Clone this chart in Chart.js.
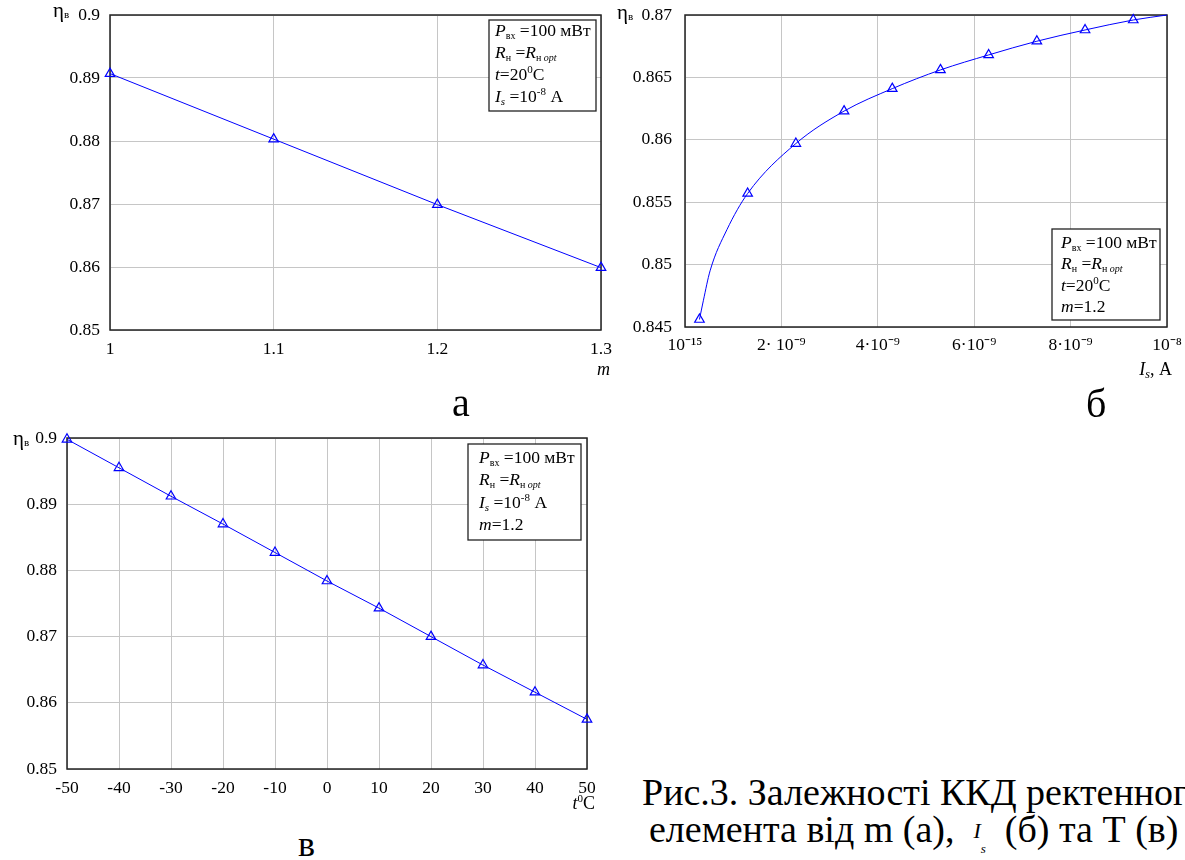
<!DOCTYPE html>
<html lang="uk">
<head>
<meta charset="utf-8">
<title>Залежності ККД ректенного елемента</title>
<script src="https://cdn.jsdelivr.net/npm/chart.js@4.4.1/dist/chart.umd.min.js"></script>
<style>
  html, body { margin: 0; padding: 0; background: #fff; }
  body {
    width: 1185px; height: 860px; overflow: hidden; position: relative;
    font-family: "Liberation Serif", "Times New Roman", serif; color: #000;
  }
  .plot { position: absolute; }
  .cap { position: absolute; line-height: 1; white-space: nowrap; }
  .math { font-style: italic; position: relative; }
</style>
</head>
<body>

<div class="plot" style="left:0;top:0;width:620px;height:385px"><canvas id="chartM"></canvas></div>
<div class="plot" style="left:605px;top:0;width:580px;height:385px"><canvas id="chartIs"></canvas></div>
<div class="plot" style="left:0;top:400px;width:620px;height:420px"><canvas id="chartT"></canvas></div>

<div class="cap" style="left:452px;top:383px;font-size:40px">а</div>
<div class="cap" style="left:1086px;top:384px;font-size:40px">б</div>
<div class="cap" style="left:298px;top:826px;font-size:36px">в</div>
<div class="cap" style="left:642px;top:773px;font-size:38px">Рис.3. Залежності ККД ректенного</div>
<div class="cap" style="left:649px;top:810px;font-size:38px">елемента від m (а),&nbsp;
  <span class="math" style="font-size:22px;top:-4px">I</span><span class="math" style="font-size:13px;top:11px">s</span>&nbsp; (б) та Т (в)</div>

<script>
// (а) η від m
const mValues = [1.0, 1.1, 1.2, 1.3];
const etaByM = [0.8907, 0.8803, 0.8699, 0.8599];
const mTicks = [1.0, 1.1, 1.2, 1.3];
const etaTicksM = [0.85, 0.86, 0.87, 0.88, 0.89, 0.9];

// (б) η від Is (маркери + точки кривої)
const isMarkers = [0.3e-9, 1.3e-9, 2.3e-9, 3.3e-9, 4.3e-9, 5.3e-9, 6.3e-9, 7.3e-9, 8.3e-9, 9.3e-9];
const etaIsMarkers = [0.8456, 0.8557, 0.8597, 0.8623, 0.8641, 0.8656, 0.8668, 0.8679, 0.8688, 0.8696];
const isCurve = [0.3e-9, 0.38e-9, 0.52e-9, 0.87e-9, 1.3e-9, 2.3e-9, 3.3e-9, 4.3e-9, 5.3e-9, 6.3e-9, 7.3e-9, 8.3e-9, 9.3e-9, 1e-8];
const etaIsCurve = [0.8456, 0.8471, 0.8495, 0.8528, 0.8557, 0.8597, 0.8623, 0.8641, 0.8656, 0.8668, 0.8679, 0.8688, 0.8696, 0.8700];
const isTicks = [1e-15, 2e-9, 4e-9, 6e-9, 8e-9, 1e-8];
const isTickLabels = ["10⁻¹⁵", "2· 10⁻⁹", "4·10⁻⁹", "6·10⁻⁹", "8·10⁻⁹", "10⁻⁸"];
const etaTicksIs = [0.845, 0.85, 0.855, 0.86, 0.865, 0.87];

// (в) η від t
const tValues = [-50, -40, -30, -20, -10, 0, 10, 20, 30, 40, 50];
const etaByT = [0.8998, 0.8955, 0.8912, 0.8870, 0.8827, 0.8784, 0.8743, 0.8700, 0.8657, 0.8616, 0.8575];
const tTicks = [-50, -40, -30, -20, -10, 0, 10, 20, 30, 40, 50];
const etaTicksT = [0.85, 0.86, 0.87, 0.88, 0.89, 0.9];

const FONT = '"Liberation Serif", "Times New Roman", serif';
const BLUE = "#0000ff";

Chart.defaults.font.family = FONT;
Chart.defaults.font.size = 17.5;
Chart.defaults.color = "#000";

// рядки підписів у рамці: [текст, курсив, розмір, зсув]
const lineP = [["P", 1], ["вх", 0, 10, 3], [" =100 мВт"]];
const lineR = [["R", 1], ["н", 0, 10, 3], [" ="], ["R", 1], ["н ", 0, 10, 3], ["opt", 1, 10, 3]];
const lineT = [["t", 1], ["=20"], ["0", 0, 11, -7], ["C"]];
const lineI = [["I", 1], ["s", 1, 11, 3], [" =10"], ["-8", 0, 11, -7], [" A"]];
const lineM = [["m", 1], ["=1.2"]];

function drawRuns(ctx, x, y, runs) {
  runs.forEach(([text, italic, size, dy]) => {
    ctx.font = (italic ? "italic " : "") + (size || 17.5) + "px " + FONT;
    ctx.fillText(text, x, y + (dy || 0));
    x += ctx.measureText(text).width;
  });
  return x;
}

function textWidth(ctx, runs) {
  let w = 0;
  runs.forEach(([text, italic, size]) => {
    ctx.font = (italic ? "italic " : "") + (size || 17.5) + "px " + FONT;
    w += ctx.measureText(text).width;
  });
  return w;
}

const extras = {
  id: "extras",
  beforeDatasetsDraw(chart) {
    const { ctx, chartArea: ca } = chart;
    ctx.save();
    ctx.strokeStyle = "#222";
    ctx.lineWidth = 1.5;
    ctx.strokeRect(ca.left, ca.top, ca.right - ca.left, ca.bottom - ca.top);
    ctx.restore();
  },
  afterDatasetsDraw(chart, args, o) {
    const { ctx, chartArea: ca } = chart;
    ctx.save();
    ctx.textBaseline = "alphabetic";

    // рамка з параметрами
    const b = o.box;
    const bx = ca.right - b.inset - b.w;
    const by = b.bottom ? ca.bottom - b.inset - b.h : ca.top + b.inset;
    ctx.fillStyle = "#fff";
    ctx.fillRect(bx, by, b.w, b.h);
    ctx.strokeStyle = "#222";
    ctx.lineWidth = 1.3;
    ctx.strokeRect(bx, by, b.w, b.h);
    ctx.fillStyle = "#000";
    b.lines.forEach((runs, i) => drawRuns(ctx, bx + b.padX, by + b.first + i * b.step, runs));

    // ηв
    drawRuns(ctx, ca.left + o.eta.dx, ca.top + o.eta.dy, [["η", 0, 21], ["в", 0, 11, 1]]);

    // назва осі x
    const t = o.title;
    const tw = textWidth(ctx, t.runs);
    drawRuns(ctx, ca.right + t.dx - tw, ca.bottom + t.dy, t.runs);
    ctx.restore();
  }
};

function fixedTicks(values) {
  return (scale) => { scale.ticks = values.map((value) => ({ value })); };
}

function makeChart(id, datasets, sc, extraOpts) {
  return new Chart(document.getElementById(id), {
    type: "line",
    data: { datasets },
    options: {
      responsive: true,
      maintainAspectRatio: false,
      animation: false,
      events: [],
      layout: { padding: sc.padding },
      plugins: { legend: { display: false }, tooltip: { enabled: false }, extras: extraOpts },
      scales: {
        x: {
          type: "linear",
          min: sc.xMin,
          max: sc.xMax,
          afterBuildTicks: fixedTicks(sc.xTicks),
          afterFit: (s) => { s.height = sc.xHeight; s.paddingLeft = 0; s.paddingRight = 0; },
          grid: { color: "#c6c6c6", lineWidth: 1, drawTicks: false },
          border: { display: false },
          ticks: {
            autoSkip: false, maxRotation: 0, padding: sc.xPad,
            callback: sc.xLabel
          }
        },
        y: {
          type: "linear",
          min: sc.yMin,
          max: sc.yMax,
          afterBuildTicks: fixedTicks(sc.yTicks),
          afterFit: (s) => { s.width = sc.yWidth; s.paddingTop = 0; s.paddingBottom = 0; },
          grid: { color: "#c6c6c6", lineWidth: 1, drawTicks: false },
          border: { display: false },
          ticks: {
            padding: sc.yPad,
            callback: (v) => String(+v.toFixed(3))
          }
        }
      }
    },
    plugins: [extras]
  });
}

function points(xs, ys) {
  return xs.map((x, i) => ({ x, y: ys[i] }));
}

const markerStyle = {
  borderColor: BLUE,
  borderWidth: 1,
  pointStyle: "triangle",
  pointRadius: 5.5,
  pointBorderWidth: 1.2,
  pointBorderColor: BLUE,
  pointBackgroundColor: "rgba(0,0,0,0)",
  clip: false
};

// (а)
makeChart("chartM",
  [Object.assign({ data: points(mValues, etaByM), tension: 0 }, markerStyle)],
  {
    padding: { top: 15, right: 19, left: 0, bottom: 0 },
    xMin: 1, xMax: 1.3, xTicks: mTicks, xHeight: 55, xPad: 9,
    xLabel: (v) => String(+v.toFixed(2)),
    yMin: 0.85, yMax: 0.9, yTicks: etaTicksM, yWidth: 110, yPad: 10
  },
  {
    box: { w: 107, h: 91, inset: 5, bottom: false, padX: 6, first: 16, step: 22, lines: [lineP, lineR, lineT, lineI] },
    eta: { dx: -57, dy: 2 },
    title: { dx: 9, dy: 45, runs: [["m", 1, 18]] }
  });

// (б)
makeChart("chartIs",
  [
    { data: points(isCurve, etaIsCurve), borderColor: BLUE, borderWidth: 1, pointRadius: 0,
      cubicInterpolationMode: "monotone", clip: false },
    Object.assign({ data: points(isMarkers, etaIsMarkers), showLine: false }, markerStyle)
  ],
  {
    padding: { top: 15, right: 18, left: 0, bottom: 0 },
    xMin: 1e-15, xMax: 1e-8, xTicks: isTicks, xHeight: 58, xPad: 8,
    xLabel: (v, i) => isTickLabels[i],
    yMin: 0.845, yMax: 0.87, yTicks: etaTicksIs, yWidth: 80, yPad: 13
  },
  {
    box: { w: 108, h: 91, inset: 7, bottom: true, padX: 9, first: 19, step: 21.3, lines: [lineP, lineR, lineT, lineM] },
    eta: { dx: -68, dy: 4 },
    title: { dx: 5, dy: 48, runs: [["I", 1, 18], ["s", 1, 12, 3], [", A", 0, 18]] }
  });

// (в)
makeChart("chartT",
  [Object.assign({ data: points(tValues, etaByT), tension: 0 }, markerStyle)],
  {
    padding: { top: 38, right: 33, left: 0, bottom: 0 },
    xMin: -50, xMax: 50, xTicks: tTicks, xHeight: 51, xPad: 9,
    xLabel: (v) => String(v),
    yMin: 0.85, yMax: 0.9, yTicks: etaTicksT, yWidth: 67, yPad: 10
  },
  {
    box: { w: 113, h: 96, inset: 6, bottom: false, padX: 11, first: 19, step: 22.3, lines: [lineP, lineR, lineI, lineM] },
    eta: { dx: -54, dy: 7 },
    title: { dx: 8, dy: 40, runs: [["t", 1, 18], ["0", 0, 11, -7], ["C", 0, 18]] }
  });
</script>
</body>
</html>
